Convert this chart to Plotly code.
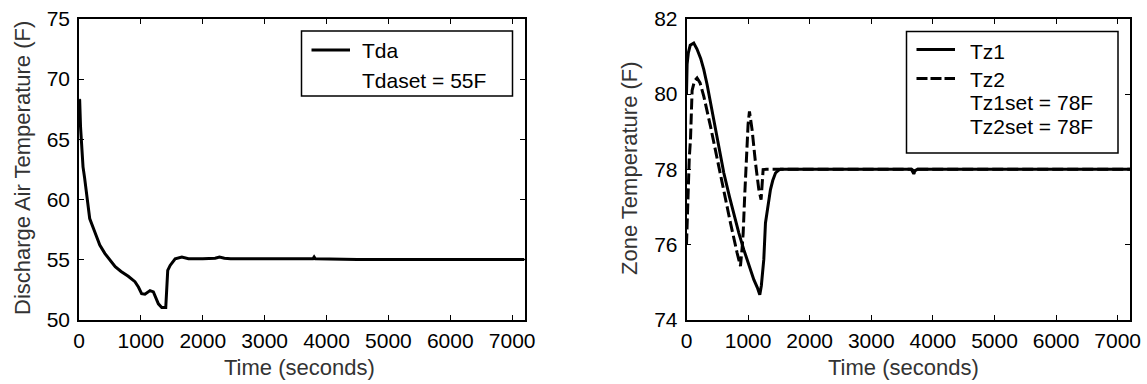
import plotly.graph_objects as go

# ---------------- data ----------------
t_da = [0, 11, 25, 38, 65, 90, 119, 173, 254, 336, 417, 500, 585, 680, 796, 904, 960,
        1012, 1066, 1148, 1202, 1283, 1337, 1402, 1418, 1434, 1473, 1554, 1662, 1770,
        2000, 2200, 2270, 2350, 2450, 3000, 3780, 3800, 3820, 4500, 5500, 6500, 7200]
T_da = [68.3, 68.25, 66.0, 64.6, 62.7, 61.8, 60.5, 58.4, 57.3, 56.2, 55.5, 55.0, 54.4,
        54.0, 53.6, 53.15, 52.7, 52.15, 52.1, 52.4, 52.3, 51.3, 51.0, 51.0, 52.5, 54.08,
        54.5, 55.05, 55.2, 55.05, 55.05, 55.1, 55.2, 55.1, 55.05, 55.05, 55.05, 55.2,
        55.05, 55.0, 55.0, 55.0, 55.0]

t_z1 = [0, 10, 30, 60, 118, 170, 230, 281, 335, 390, 497, 606, 700, 768, 850, 930, 1010,
        1093, 1150, 1190, 1215, 1240, 1255, 1282, 1320, 1363, 1400, 1445, 1490, 1526,
        1600, 2000, 3000, 3650, 3700, 3750, 4500, 5500, 6500, 7200]
T_z1 = [80.0, 80.8, 81.1, 81.3, 81.36, 81.2, 80.95, 80.65, 80.25, 79.76, 78.79, 77.9,
        77.25, 76.8, 76.3, 75.86, 75.45, 75.06, 74.85, 74.66, 74.9, 75.3, 75.6, 76.57,
        77.05, 77.46, 77.7, 77.9, 77.97, 78.0, 78.0, 78.0, 78.0, 78.0, 77.95, 78.0, 78.0,
        78.0, 78.0, 78.0]

t_z2 = [0, 20, 45, 65, 91, 130, 172, 220, 281, 390, 497, 606, 714, 822, 876, 903, 920,
        945, 975, 1000, 1022, 1040, 1065, 1120, 1174, 1211, 1244, 1300, 1500, 2000, 3000,
        3650, 3690, 3730, 4500, 5500, 6500, 7200]
T_z2 = [76.0, 77.3, 78.3, 78.8, 80.1, 80.35, 80.43, 80.3, 79.94, 79.14, 78.26, 77.37,
        76.57, 75.77, 75.42, 75.9, 76.3, 77.3, 78.5, 79.2, 79.54, 79.35, 79.05, 78.17,
        77.46, 77.19, 77.99, 78.0, 78.0, 78.0, 78.0, 78.0, 77.88, 78.0, 78.0, 78.0, 78.0,
        78.0]

x_ticks = [0, 1000, 2000, 3000, 4000, 5000, 6000, 7000]
y1_ticks = [50, 55, 60, 65, 70, 75]
y2_ticks = [74, 76, 78, 80, 82]

legend1_labels = ["Tda", "Tdaset = 55F"]
legend2_labels = ["Tz1", "Tz2", "Tz1set = 78F", "Tz2set = 78F"]

xlabel = "Time (seconds)"
ylabel1 = "Discharge Air Temperature (F)"
ylabel2 = "Zone Temperature (F)"

# ---------------- layout helpers ----------------
W, H = 1147, 384
FONT = "Liberation Sans, Arial, sans-serif"


def px(x):
    return x / W


def py(y):
    return 1 - y / H


fig = go.Figure()

fig.add_trace(go.Scatter(x=t_da, y=T_da, mode="lines", line=dict(color="black", width=3),
                         xaxis="x", yaxis="y", showlegend=False))
fig.add_trace(go.Scatter(x=t_z1, y=T_z1, mode="lines", line=dict(color="black", width=3),
                         xaxis="x2", yaxis="y2", showlegend=False))
fig.add_trace(go.Scatter(x=t_z2, y=T_z2, mode="lines",
                         line=dict(color="black", width=3, dash="11px,4px"),
                         xaxis="x2", yaxis="y2", showlegend=False))

ax_common = dict(showline=True, linecolor="black", linewidth=1.5, mirror="allticks",
                 ticks="inside", ticklen=5, tickwidth=1.2, tickcolor="black",
                 showgrid=False, zeroline=False, automargin=False,
                 tickfont=dict(family=FONT, size=21, color="black"))

y_top, y_bot = 19, 319.5
fig.update_layout(
    template="none",
    width=W, height=H, margin=dict(l=0, r=0, t=0, b=0, autoexpand=False),
    paper_bgcolor="white", plot_bgcolor="white",
    xaxis=dict(domain=[px(79), px(524.5)], range=[0, 7200], tickvals=x_ticks,
               anchor="y", ticklabelstandoff=2, **ax_common),
    yaxis=dict(domain=[py(y_bot), py(y_top)], range=[50, 75], tickvals=y1_ticks,
               anchor="x", ticklabelstandoff=3, **ax_common),
    xaxis2=dict(domain=[px(686.5), px(1130)], range=[0, 7200], tickvals=x_ticks,
                anchor="y2", ticklabelstandoff=2, **ax_common),
    yaxis2=dict(domain=[py(y_bot), py(y_top)], range=[74, 82], tickvals=y2_ticks,
                anchor="x2", ticklabelstandoff=3, **ax_common),
)

ann = []
shapes = []
title_font = dict(family=FONT, size=22, color="#333")
ann.append(dict(text=xlabel, x=px(299), y=py(367), xref="paper", yref="paper",
                showarrow=False, xanchor="center", yanchor="middle", font=title_font))
ann.append(dict(text=xlabel, x=px(903), y=py(367), xref="paper", yref="paper",
                showarrow=False, xanchor="center", yanchor="middle", font=title_font))
ann.append(dict(text=ylabel1, x=px(22), y=py(168), xref="paper", yref="paper",
                showarrow=False, xanchor="center", yanchor="middle", textangle=-90,
                font=title_font))
ann.append(dict(text=ylabel2, x=px(629), y=py(168), xref="paper", yref="paper",
                showarrow=False, xanchor="center", yanchor="middle", textangle=-90,
                font=title_font))

# legend 1 (left)
leg_font = dict(family=FONT, size=21, color="black")
shapes.append(dict(type="rect", xref="paper", yref="paper", x0=px(301.5), x1=px(512.5),
                   y0=py(96), y1=py(31), line=dict(color="black", width=1.5),
                   fillcolor="white", layer="above"))
leg1_y = [50, 80]
shapes.append(dict(type="line", xref="paper", yref="paper", x0=px(311.5), x1=px(350),
                   y0=py(leg1_y[0]), y1=py(leg1_y[0]), line=dict(color="black", width=3),
                   layer="above"))
for lab, yy in zip(legend1_labels, leg1_y):
    ann.append(dict(text=lab, x=px(361), y=py(yy), xref="paper", yref="paper",
                    showarrow=False, xanchor="left", yanchor="middle", font=leg_font,
                    height=24, borderpad=0))

# legend 2 (right)
shapes.append(dict(type="rect", xref="paper", yref="paper", x0=px(906.5), x1=px(1118),
                   y0=py(153), y1=py(31.5), line=dict(color="black", width=1.5),
                   fillcolor="white", layer="above"))
leg2_y = [51, 78.5, 101.5, 125.5]
shapes.append(dict(type="line", xref="paper", yref="paper", x0=px(916.5), x1=px(955),
                   y0=py(leg2_y[0] - 1.5), y1=py(leg2_y[0] - 1.5),
                   line=dict(color="black", width=3), layer="above"))
shapes.append(dict(type="line", xref="paper", yref="paper", x0=px(916.5), x1=px(955),
                   y0=py(leg2_y[1]), y1=py(leg2_y[1]),
                   line=dict(color="black", width=3, dash="11px,3px"), layer="above"))
for lab, yy in zip(legend2_labels, leg2_y):
    ann.append(dict(text=lab, x=px(969), y=py(yy), xref="paper", yref="paper",
                    showarrow=False, xanchor="left", yanchor="middle", font=leg_font,
                    height=22, borderpad=0))

fig.update_layout(annotations=ann, shapes=shapes)
fig.write_html("out.html")
